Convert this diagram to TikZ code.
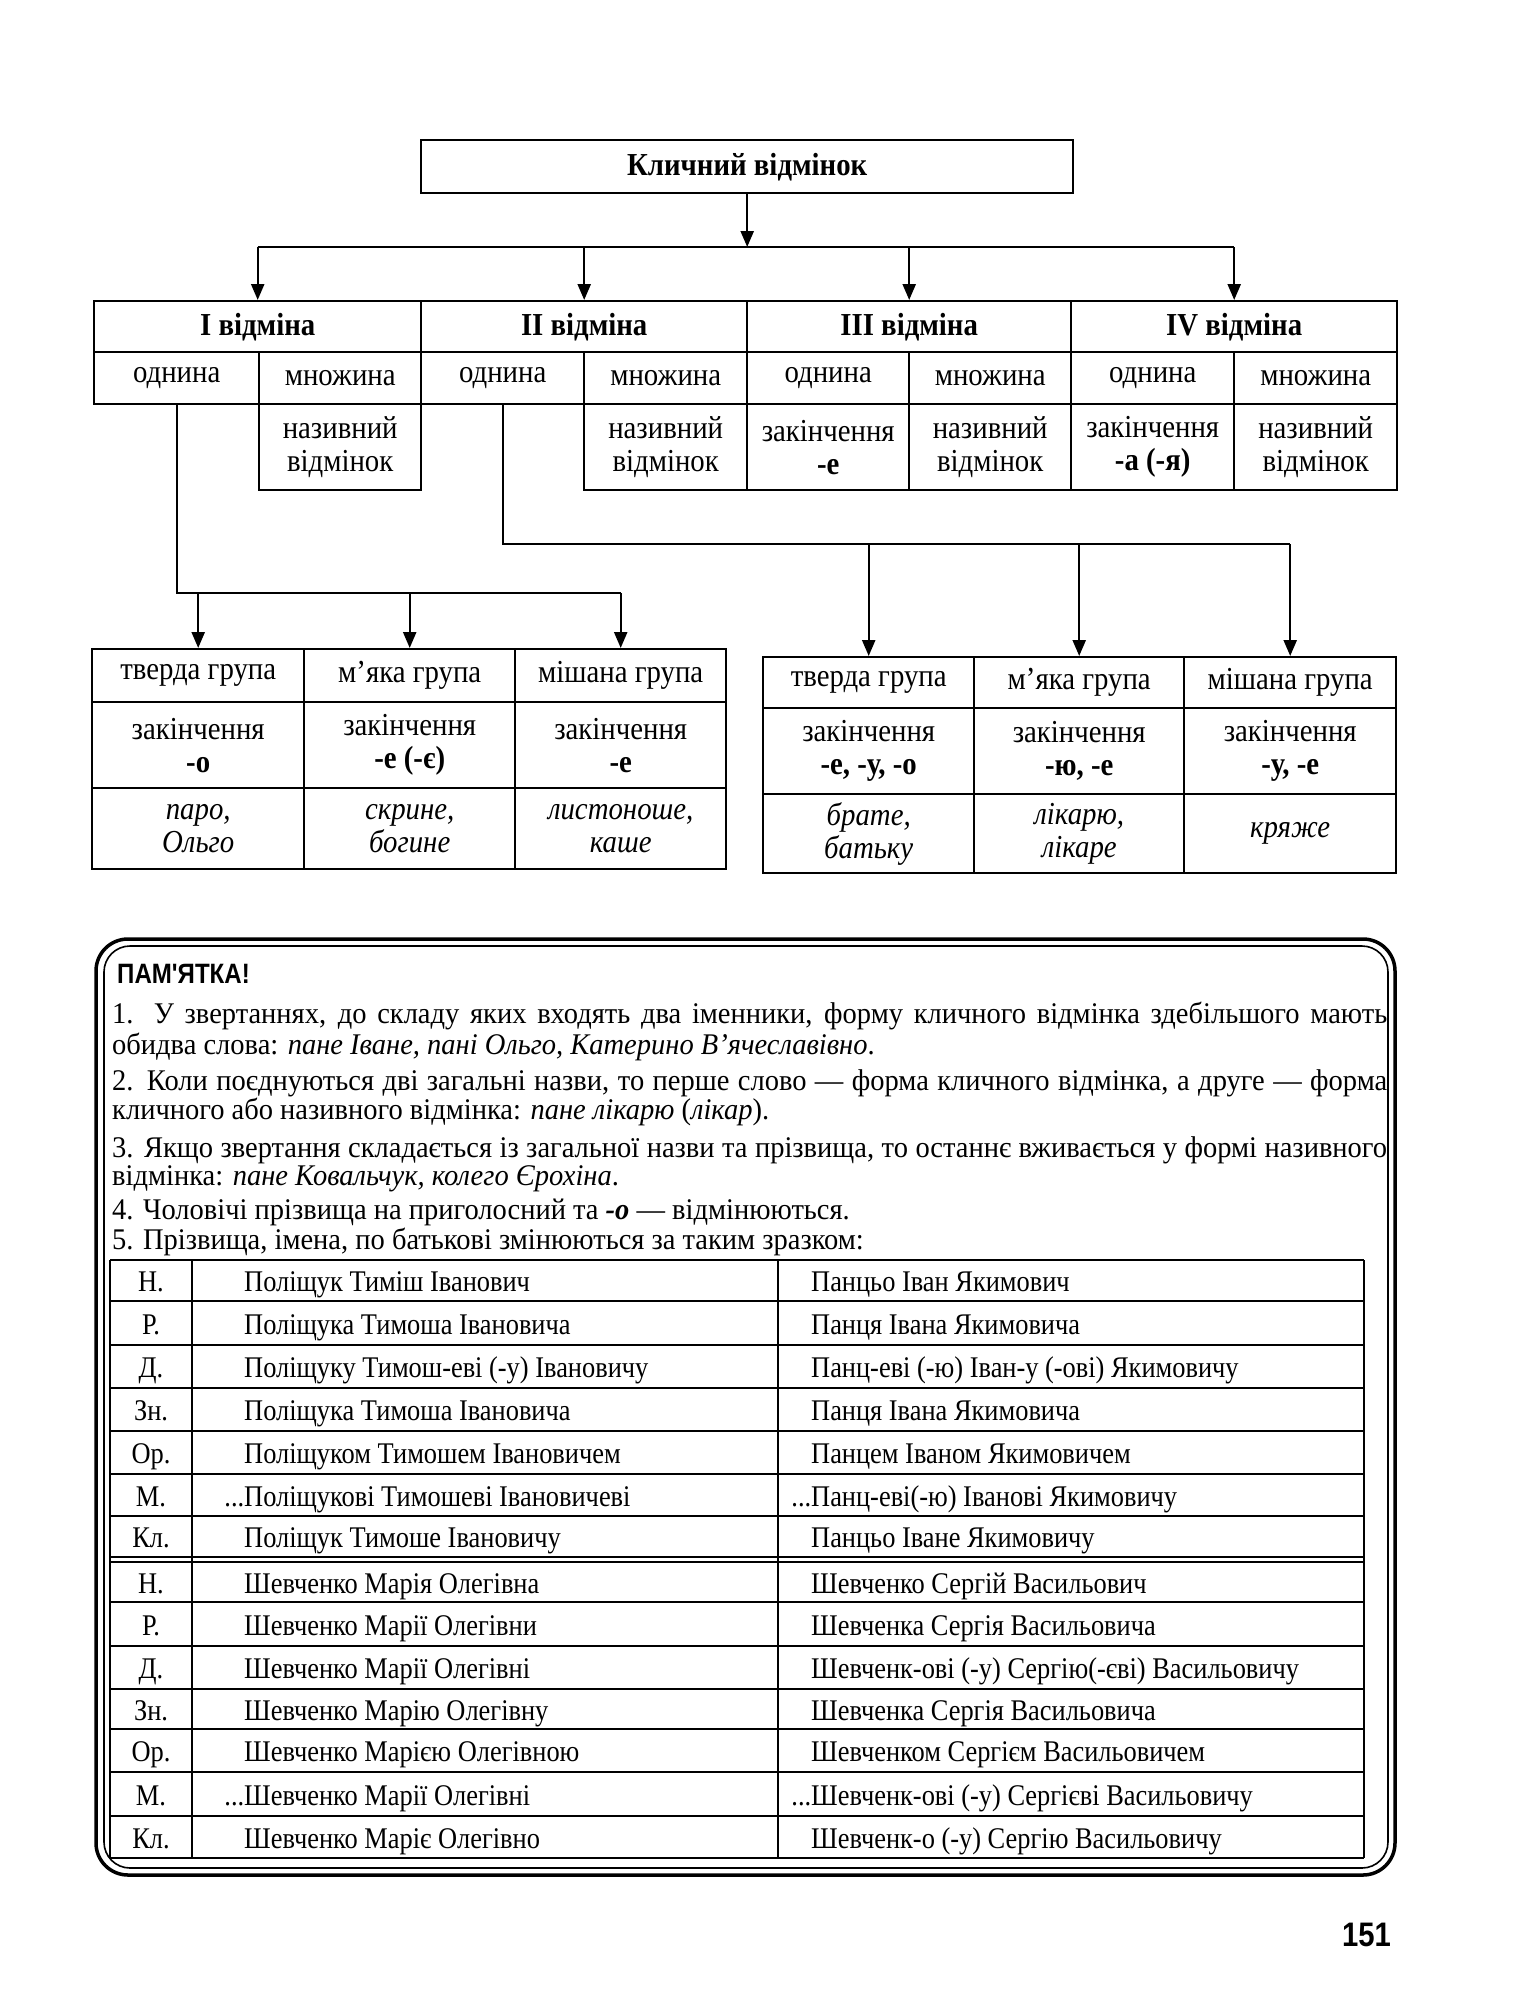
\documentclass[tikz,border=0pt]{standalone}
\usepackage{fontspec}
\setmainfont{Liberation Serif}
\newfontfamily\headsans[FakeStretch=0.86]{Liberation Sans}
\newfontfamily\narrowserif[FakeStretch=0.9]{Liberation Serif}
\newfontfamily\tabserif[FakeStretch=0.88]{Liberation Serif}
\newfontfamily\memoserif[FakeStretch=0.95]{Liberation Serif}
\usepackage{tikz}
\usetikzlibrary{arrows.meta,positioning}

\newcommand{\diagfont}{\narrowserif\fontsize{32}{33}\selectfont}
\newcommand{\memofont}{\memoserif\fontsize{30}{30}\selectfont}
\newcommand{\tabfont}{\tabserif\fontsize{30}{30}\selectfont}
\newcommand{\fullline}[1]{\makebox[1275pt][s]{#1}}

\begin{document}
\begin{tikzpicture}[x=1pt,y=-1pt,
  cell/.style={draw,line width=2.4pt,inner sep=0pt,align=center,anchor=north west,font=\diagfont},
  arr/.style={line width=2.4pt,-{Triangle[length=16pt,width=13pt]}},
  link/.style={line width=2.4pt},
  memo/.style={inner sep=0pt,anchor=base west,font=\memofont},
  entry/.style={inner sep=0pt,anchor=base west,font=\tabfont},
  tab/.style={line width=2pt}]
\useasboundingbox (0,0) rectangle (1525,2000);

% upper scheme
\node[cell,minimum width=652,minimum height=53] (kv) at (420,139) {\textbf{Кличний відмінок}};

\node[cell,minimum width=327,minimum height=51] (v1) at (93,300) {\textbf{I відміна}};
\node[cell,minimum width=326,minimum height=51] (v2) at (420,300) {\textbf{II відміна}};
\node[cell,minimum width=324,minimum height=51] (v3) at (746,300) {\textbf{III відміна}};
\node[cell,minimum width=326,minimum height=51] (v4) at (1070,300) {\textbf{IV відміна}};

\node[cell,minimum width=165,minimum height=52] (o1) at (93,351) {однина};
\node[cell,minimum width=162,minimum height=52] (m1) at (258,351) {множина};
\node[cell,minimum width=163,minimum height=52] (o2) at (420,351) {однина};
\node[cell,minimum width=163,minimum height=52] (m2) at (583,351) {множина};
\node[cell,minimum width=162,minimum height=52] (o3) at (746,351) {однина};
\node[cell,minimum width=162,minimum height=52] (m3) at (908,351) {множина};
\node[cell,minimum width=163,minimum height=52] (o4) at (1070,351) {однина};
\node[cell,minimum width=163,minimum height=52] (m4) at (1233,351) {множина};

\node[cell,minimum width=162,minimum height=86] (n1) at (258,403) {називний\\відмінок};
\node[cell,minimum width=163,minimum height=86] (n2) at (583,403) {називний\\відмінок};
\node[cell,minimum width=162,minimum height=86] (z3) at (746,403) {закінчення\\\textbf{-е}};
\node[cell,minimum width=162,minimum height=86] (n3) at (908,403) {називний\\відмінок};
\node[cell,minimum width=163,minimum height=86] (z4) at (1070,403) {закінчення\\\textbf{-а (-я)}};
\node[cell,minimum width=163,minimum height=86] (n4) at (1233,403) {називний\\відмінок};

\coordinate (br) at (0,247);
\draw[arr] (kv.south) -- (kv.south |- br);
\draw[link] (v1.north |- br) -- (v4.north |- br);
\foreach \n in {v1,v2,v3,v4}
  \draw[arr] (\n.north |- br) -- (\n.north);

% groups, I declension
\node[cell,minimum width=212,minimum height=53] (g1) at (91,648) {тверда група};
\node[cell,minimum width=211,minimum height=53] (g2) at (303,648) {м’яка група};
\node[cell,minimum width=211,minimum height=53] (g3) at (514,648) {мішана група};
\node[cell,minimum width=212,minimum height=86] (e1) at (91,701) {закінчення\\\textbf{-о}};
\node[cell,minimum width=211,minimum height=86] (e2) at (303,701) {закінчення\\\textbf{-е (-є)}};
\node[cell,minimum width=211,minimum height=86] (e3) at (514,701) {закінчення\\\textbf{-е}};
\node[cell,minimum width=212,minimum height=81] (p1) at (91,787) {\textit{паро,}\\\textit{Ольго}};
\node[cell,minimum width=211,minimum height=81] (p2) at (303,787) {\textit{скрине,}\\\textit{богине}};
\node[cell,minimum width=211,minimum height=81] (p3) at (514,787) {\textit{листоноше,}\\\textit{каше}};

\coordinate (bl) at (0,593);
\draw[link] (o1.south) -- (o1.south |- bl) -- (g3.north |- bl);
\foreach \n in {g1,g2,g3}
  \draw[arr] (\n.north |- bl) -- (\n.north);

% groups, II declension
\node[cell,minimum width=211,minimum height=51] (h1) at (762,656) {тверда група};
\node[cell,minimum width=210,minimum height=51] (h2) at (973,656) {м’яка група};
\node[cell,minimum width=212,minimum height=51] (h3) at (1183,656) {мішана група};
\node[cell,minimum width=211,minimum height=86] (f1) at (762,707) {закінчення\\\textbf{-е, -у, -о}};
\node[cell,minimum width=210,minimum height=86] (f2) at (973,707) {закінчення\\\textbf{-ю, -е}};
\node[cell,minimum width=212,minimum height=86] (f3) at (1183,707) {закінчення\\\textbf{-у, -е}};
\node[cell,minimum width=211,minimum height=79] (q1) at (762,793) {\textit{брате,}\\\textit{батьку}};
\node[cell,minimum width=210,minimum height=79] (q2) at (973,793) {\textit{лікарю,}\\\textit{лікаре}};
\node[cell,minimum width=212,minimum height=79] (q3) at (1183,793) {\textit{кряже}};

\coordinate (bm) at (0,544);
\draw[link] (o2.south) -- (o2.south |- bm) -- (h3.north |- bm);
\foreach \n in {h1,h2,h3}
  \draw[arr] (\n.north |- bm) -- (\n.north);

% memo frame
\draw[line width=3.5pt,rounded corners=32pt] (96,939) rectangle (1395,1875);
\draw[line width=1.6pt,rounded corners=26pt] (104,946) rectangle (1388,1868);

\node[memo,font=\headsans\bfseries\fontsize{28}{28}\selectfont] (title) at (117,983) {ПАМ'ЯТКА!};
\node[memo] (l1) at (112,1023) {\fullline{1. У звертаннях, до складу яких входять два іменники, форму кличного відмінка здебільшого мають}};
\node[memo] (l2) at (112,1054) {обидва слова: \textit{пане Іване, пані Ольго, Катерино В’ячеславівно}.};
\node[memo] (l3) at (112,1090) {\fullline{2. Коли поєднуються дві загальні назви, то перше слово — форма кличного відмінка, а друге — форма}};
\node[memo] (l4) at (112,1119) {кличного або називного відмінка: \textit{пане лікарю} (\textit{лікар}).};
\node[memo] (l5) at (112,1157) {\fullline{3. Якщо звертання складається із загальної назви та прізвища, то останнє вживається у формі називного}};
\node[memo] (l6) at (112,1185) {відмінка: \textit{пане Ковальчук, колего Єрохіна}.};
\node[memo] (l7) at (112,1219) {4. Чоловічі прізвища на приголосний та \textbf{\textit{-о}} — відмінюються.};
\node[memo] (l8) at (112,1249) {5. Прізвища, імена, по батькові змінюються за таким зразком:};

% declension table
\foreach \y in {1260,1301,1345,1388,1431,1474,1516,1557,1562,1602,1646,1689,1729,1772,1816,1858}
  \draw[tab] (110,\y) -- (1364,\y);
\foreach \x in {110,192,778,1364}
  \draw[tab] (\x,1260) -- (\x,1858);

\foreach \y/\c/\a/\b [count=\i] in {
  1291/Н./Поліщук Тиміш Іванович/Панцьо Іван Якимович,
  1334/Р./Поліщука Тимоша Івановича/Панця Івана Якимовича,
  1377/Д./Поліщуку Тимош-еві (-у) Івановичу/Панц-еві (-ю) Іван-у (-ові) Якимовичу,
  1420/Зн./Поліщука Тимоша Івановича/Панця Івана Якимовича,
  1463/Ор./Поліщуком Тимошем Івановичем/Панцем Іваном Якимовичем,
  1506/М./\llap{...}Поліщукові Тимошеві Івановичеві/\llap{...}Панц-еві(-ю) Іванові Якимовичу,
  1547/Кл./Поліщук Тимоше Івановичу/Панцьо Іване Якимовичу,
  1593/Н./Шевченко Марія Олегівна/Шевченко Сергій Васильович,
  1635/Р./Шевченко Марії Олегівни/Шевченка Сергія Васильовича,
  1678/Д./Шевченко Марії Олегівні/Шевченк-ові (-у) Сергію(-єві) Васильовичу,
  1720/Зн./Шевченко Марію Олегівну/Шевченка Сергія Васильовича,
  1761/Ор./Шевченко Марією Олегівною/Шевченком Сергієм Васильовичем,
  1805/М./\llap{...}Шевченко Марії Олегівні/\llap{...}Шевченк-ові (-у) Сергієві Васильовичу,
  1848/Кл./Шевченко Маріє Олегівно/Шевченк-о (-у) Сергію Васильовичу}
{
  \node[entry,anchor=base] (c\i) at (151,\y) {\c};
  \node[entry] (a\i) at (244,\y) {\a};
  \node[entry] (b\i) at (811,\y) {\b};
}

\node[memo,anchor=base east,font=\headsans\bfseries\fontsize{34}{34}\selectfont] (page) at (1391,1946) {151};
\end{tikzpicture}
\end{document}
